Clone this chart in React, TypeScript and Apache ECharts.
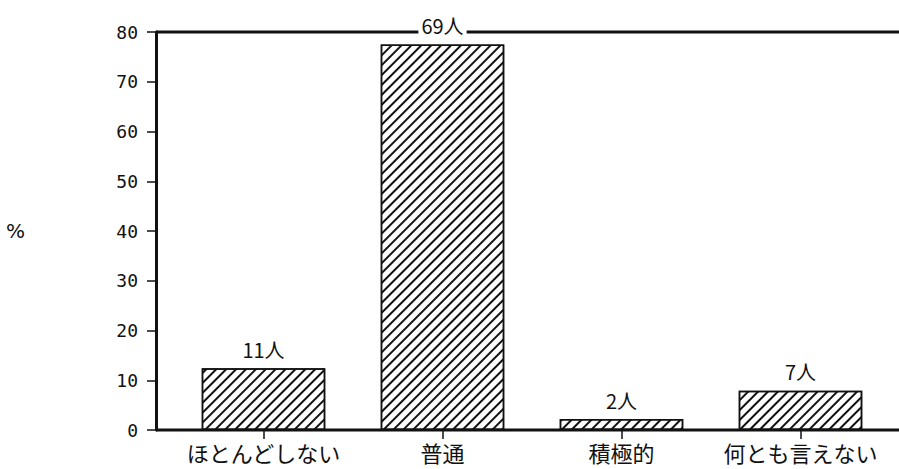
import React, { useEffect, useRef } from "react";
import * as echarts from "echarts";

const categories = ["ほとんどしない", "普通", "積極的", "何とも言えない"];
const percentValues = [12.4, 77.5, 2.2, 7.9];
const counts = [11, 69, 2, 7];
const yTicks = { min: 0, max: 80, interval: 10 };
const axisName = "%";

export default function App() {
  const ref = useRef<HTMLDivElement>(null);
  useEffect(() => {
    if (!ref.current) return;
    const chart = echarts.init(ref.current, null, { renderer: "svg" });
    const ink = "#111";
    chart.setOption({
      animation: false,
      backgroundColor: "#fff",
      grid: { left: 174, right: 9, top: 32, bottom: 39, containLabel: false },
      graphic: [
        {
          type: "line",
          z: 0,
          shape: { x1: 156, y1: 32, x2: 899, y2: 32 },
          style: { stroke: ink, lineWidth: 3 },
        },
        {
          type: "line",
          z: 0,
          shape: { x1: 156, y1: 430, x2: 899, y2: 430 },
          style: { stroke: ink, lineWidth: 3 },
        },
      ],
      xAxis: {
        type: "category",
        data: categories,
        axisLine: { show: false },
        axisTick: { show: true, alignWithLabel: true, length: 9, lineStyle: { color: ink, width: 1.5 } },
        axisLabel: {
          color: ink,
          fontSize: 22,
          fontFamily: "Noto Sans CJK JP",
          margin: 11,
          interval: 0,
        },
        splitLine: { show: false },
      },
      yAxis: {
        type: "value",
        min: yTicks.min,
        max: yTicks.max,
        interval: yTicks.interval,
        offset: 18,
        name: axisName,
        nameLocation: "middle",
        nameRotate: 0,
        nameGap: 131,
        nameTextStyle: { color: ink, fontSize: 20, fontFamily: "DejaVu Sans" },
        axisLine: { show: true, lineStyle: { color: ink, width: 3 } },
        axisTick: { show: true, length: 9, lineStyle: { color: ink, width: 1.5 } },
        axisLabel: {
          color: ink,
          fontSize: 18,
          fontFamily: "DejaVu Sans Mono",
          margin: 18,
        },
        splitLine: { show: false },
      },
      series: [
        {
          type: "bar",
          data: percentValues,
          barWidth: "69%",
          z: 3,
          itemStyle: {
            color: "#fff",
            borderColor: ink,
            borderWidth: 1.5,
            decal: {
              symbol: "rect",
              symbolSize: 1,
              color: ink,
              backgroundColor: "#fff",
              dashArrayX: [1, 0],
              dashArrayY: [1.5, 4.5],
              rotation: -Math.PI / 4,
            },
          },
          label: {
            show: true,
            position: "top",
            distance: 9,
            color: ink,
            fontSize: 20,
            fontFamily: "Noto Sans CJK JP",
            backgroundColor: "#fff",
            padding: [0, 3],
            formatter: (p: any) => counts[p.dataIndex] + "人",
          },
        },
      ],
    });
    return () => chart.dispose();
  }, []);
  return <div ref={ref} style={{ width: 899, height: 469, position: "absolute", left: 0, top: 0 }} />;
}
